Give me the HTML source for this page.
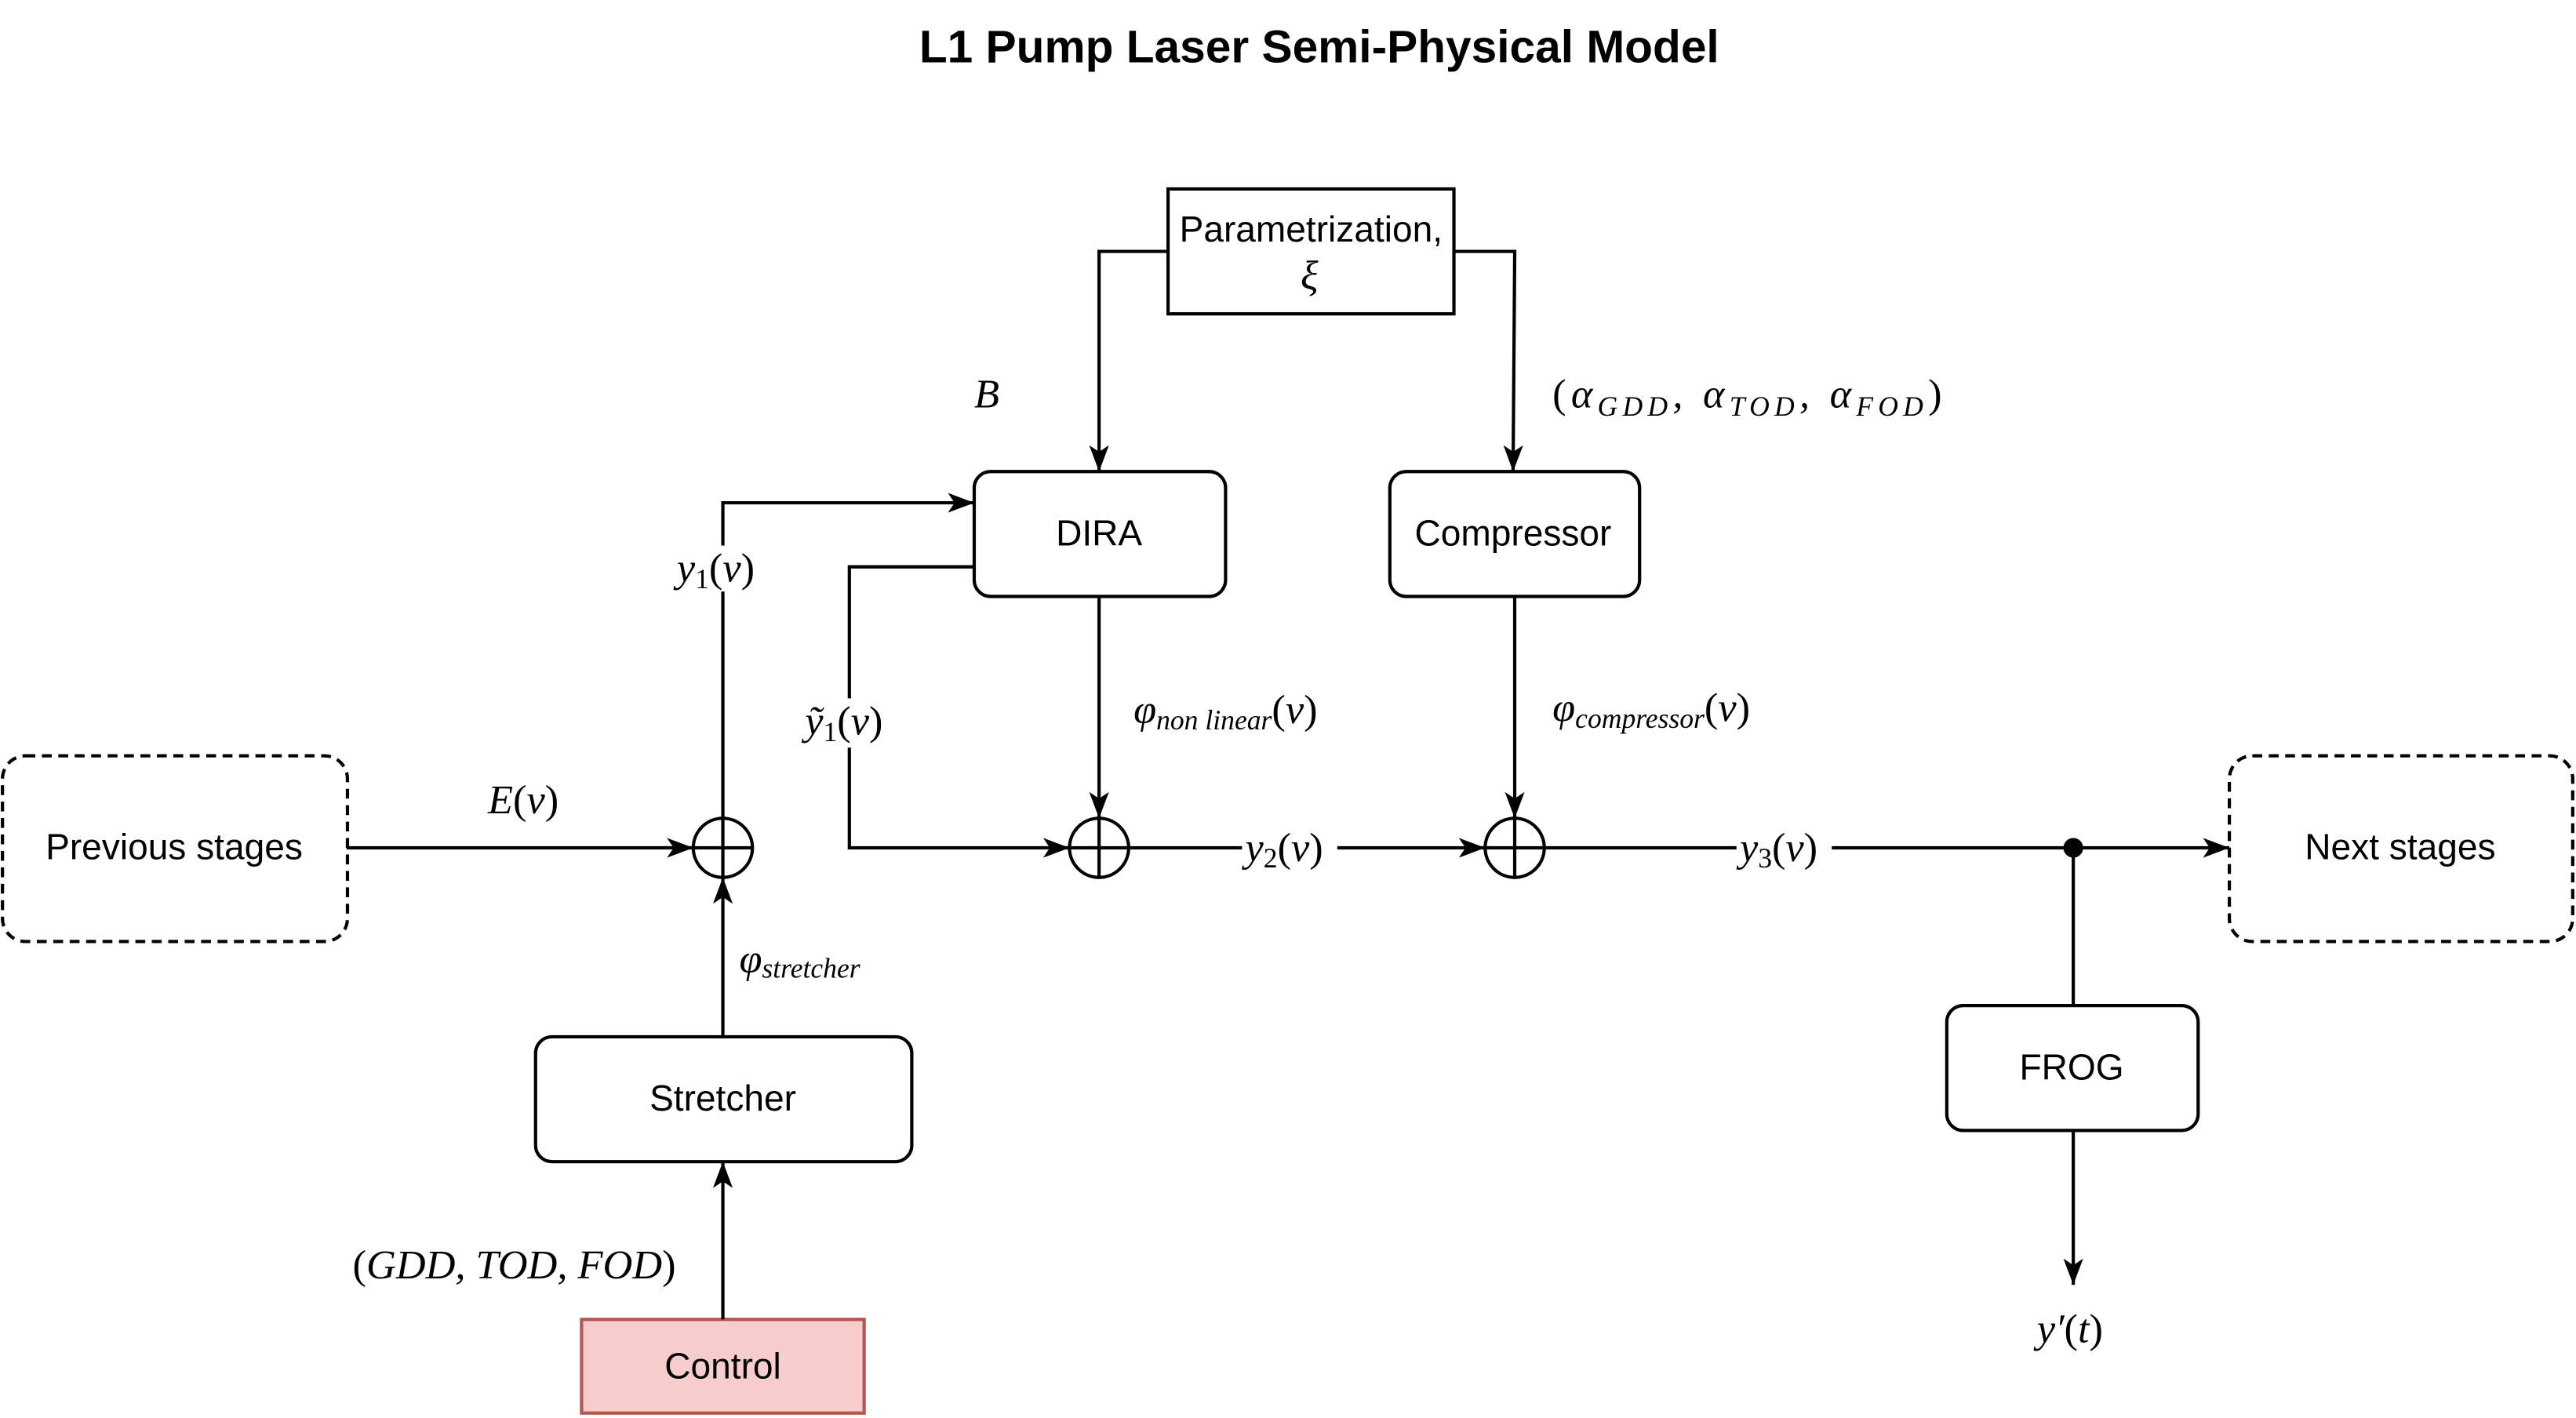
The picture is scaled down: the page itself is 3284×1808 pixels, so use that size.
<!DOCTYPE html>
<html><head><meta charset="utf-8"><style>
html,body{margin:0;padding:0;background:#fff;}
svg{display:block;}
.box{font-family:"Liberation Sans",sans-serif;font-size:22px;text-anchor:middle;fill:#000;}
.m{font-family:"Liberation Serif",serif;font-style:italic;font-size:25px;fill:#000;}
.s{font-size:17px;}
.u{font-style:normal;}
</style></head><body>
<svg width="3284" height="1808" viewBox="0 0 1568 863" preserveAspectRatio="none" xmlns="http://www.w3.org/2000/svg">
<defs>
<marker id="b" viewBox="0 0 16 12" refX="16" refY="6" markerWidth="16" markerHeight="12" markerUnits="userSpaceOnUse" orient="auto">
<path d="M0,0 L16,6 L0,12 L4,6 z" fill="#000"/></marker>
</defs>
<rect width="1568" height="863" fill="#fff"/>
<text x="803" y="38" font-family="Liberation Sans,sans-serif" font-weight="bold" font-size="28" text-anchor="middle">L1 Pump Laser Semi-Physical Model</text>

<g fill="none" stroke="#000" stroke-width="2">
<rect x="711" y="115" width="174" height="76" fill="#fff"/>
<rect x="593" y="287" width="153" height="76" rx="10"/>
<rect x="846" y="287" width="152" height="76" rx="10"/>
<rect x="1.5" y="460" width="210" height="113" rx="14" stroke-dasharray="6,4"/>
<rect x="1357" y="460" width="209" height="113" rx="14" stroke-dasharray="6,4"/>
<rect x="326" y="631" width="229" height="76" rx="10"/>
<rect x="1185" y="612" width="153" height="76" rx="10"/>
<rect x="354" y="803" width="172" height="57" fill="#f8cecc" stroke="#b85450"/>
<circle cx="440" cy="516" r="18"/><path d="M422,516H458M440,498V534"/>
<circle cx="669" cy="516" r="18"/><path d="M651,516H687M669,498V534"/>
<circle cx="922" cy="516" r="18"/><path d="M904,516H940M922,498V534"/>

<path d="M711,153H669V287" marker-end="url(#b)"/>
<path d="M885,153H922L921,287" marker-end="url(#b)"/>
<path d="M211,516H422" marker-end="url(#b)"/>
<path d="M440,498V306H593" marker-end="url(#b)"/>
<path d="M593,345H517V516H651" marker-end="url(#b)"/>
<path d="M669,363V498" marker-end="url(#b)"/>
<path d="M687,516H904" marker-end="url(#b)"/>
<path d="M922,363V498" marker-end="url(#b)"/>
<path d="M940,516H1357" marker-end="url(#b)"/>
<path d="M1262,516V612"/>
<path d="M1262,688V782" marker-end="url(#b)"/>
<path d="M440,631V534" marker-end="url(#b)"/>
<path d="M440,803V707" marker-end="url(#b)"/>
</g>
<circle cx="1262" cy="516" r="6" fill="#000"/>

<text class="box" x="798" y="147">Parametrization,</text>
<text class="m" x="797" y="176" text-anchor="middle">ξ</text>
<text class="box" x="669" y="332">DIRA</text>
<text class="box" x="921" y="332">Compressor</text>
<text class="box" x="106" y="523">Previous stages</text>
<text class="box" x="1461" y="523">Next stages</text>
<text class="box" x="440" y="676">Stretcher</text>
<text class="box" x="1261" y="657">FROG</text>
<text class="box" x="440" y="839">Control</text>

<text class="m" x="593" y="248">B</text>
<text class="m" x="945" y="248" textLength="237"><tspan class="u">(</tspan>α<tspan class="s" dy="5">GDD</tspan><tspan dy="-5">, α</tspan><tspan class="s" dy="5">TOD</tspan><tspan dy="-5">, α</tspan><tspan class="s" dy="5">FOD</tspan><tspan class="u" dy="-5">)</tspan></text>
<text class="m" x="297" y="495">E<tspan class="u">(</tspan>ν<tspan class="u">)</tspan></text>
<rect x="408" y="332" width="62" height="28" fill="#fff"/>
<text class="m" x="412" y="354">y<tspan class="s u" dy="4">1</tspan><tspan class="u" dy="-4">(</tspan>ν<tspan class="u">)</tspan></text>
<rect x="488" y="425" width="60" height="30" fill="#fff"/>
<text class="m" x="490" y="447">ỹ<tspan class="s u" dy="4">1</tspan><tspan class="u" dy="-4">(</tspan>ν<tspan class="u">)</tspan></text>
<text class="m" x="690" y="440">φ<tspan class="s" dy="4">non linear</tspan><tspan class="u" dy="-4">(</tspan>ν<tspan class="u">)</tspan></text>
<text class="m" x="945" y="439">φ<tspan class="s" dy="4">compressor</tspan><tspan class="u" dy="-4">(</tspan>ν<tspan class="u">)</tspan></text>
<text class="m" x="450" y="592">φ<tspan class="s" dy="3">stretcher</tspan></text>
<rect x="756" y="504" width="58" height="26" fill="#fff"/>
<text class="m" x="758" y="524">y<tspan class="s u" dy="4">2</tspan><tspan class="u" dy="-4">(</tspan>ν<tspan class="u">)</tspan></text>
<rect x="1057" y="504" width="58" height="26" fill="#fff"/>
<text class="m" x="1059" y="524">y<tspan class="s u" dy="4">3</tspan><tspan class="u" dy="-4">(</tspan>ν<tspan class="u">)</tspan></text>
<text class="m" x="1260" y="817" text-anchor="middle">y′<tspan class="u">(</tspan>t<tspan class="u">)</tspan></text>
<text class="m" x="313" y="778" text-anchor="middle"><tspan class="u">(</tspan>GDD, TOD, FOD<tspan class="u">)</tspan></text>
</svg>
</body></html>
